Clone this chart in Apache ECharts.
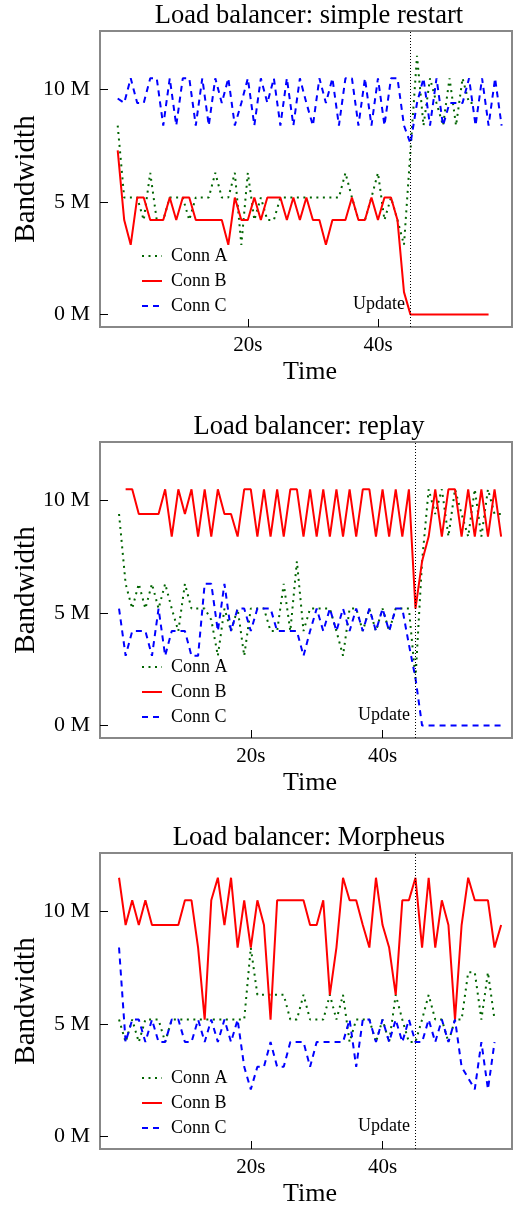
<!DOCTYPE html>
<html>
<head>
<meta charset="utf-8">
<script src="https://cdn.jsdelivr.net/npm/echarts@6/dist/echarts.min.js"></script>
<style>
  html, body { margin: 0; padding: 0; background: #fff; }
  #main { width: 513px; height: 1205px; }
</style>
</head>
<body>
<div id="main"></div>
<script>
// bandwidth samples, one per second, in M
const restartA = [8.4, 5.2, 5.2, 5.2, 4.2, 6.3, 4.2, 4.2, 5.2, 5.2,
  5.2, 4.2, 5.2, 5.2, 5.2, 6.3, 5.2, 5.2, 6.3, 3.1,
  6.3, 4.2, 5.2, 4.2, 4.2, 5.2, 5.2, 5.2, 5.2, 5.2,
  5.2, 5.2, 5.2, 5.2, 5.2, 6.3, 5.2, 4.2, 4.2, 5.2,
  6.3, 4.2, 5.2, 4.2, 3.1, 7.3, 11.5, 8.4, 10.5, 9.4,
  8.4, 10.5, 8.4, 10.5, 9.4, 9.4];
const restartB = [7.3, 4.2, 3.1, 5.2, 5.2, 4.2, 4.2, 4.2, 5.2, 4.2,
  5.2, 5.2, 4.2, 4.2, 4.2, 4.2, 4.2, 3.1, 5.2, 4.2,
  4.2, 5.2, 4.2, 5.2, 5.2, 5.2, 4.2, 5.2, 4.2, 5.2,
  4.2, 4.2, 3.1, 4.2, 4.2, 4.2, 5.2, 4.2, 4.2, 5.2,
  4.2, 5.2, 5.2, 4.2, 1.0, 0, 0, 0, 0, 0,
  0, 0, 0, 0, 0, 0, 0, 0];
const restartC = [9.6, 9.4, 10.5, 9.4, 9.4, 10.5, 10.5, 8.4, 10.5, 8.4,
  10.5, 10.5, 8.4, 10.5, 8.4, 10.5, 9.4, 10.5, 8.4, 9.4,
  10.5, 8.4, 10.5, 9.4, 10.5, 8.4, 10.5, 8.4, 10.5, 9.4,
  8.4, 10.5, 9.4, 10.5, 8.4, 10.5, 10.5, 8.4, 10.5, 8.4,
  10.5, 8.4, 10.5, 10.5, 8.4, 7.6, 9.4, 10.5, 8.4, 10.5,
  8.4, 9.4, 9.4, 9.4, 10.5, 8.4, 10.5, 8.4, 10.5, 8.4];

const replayA = [9.4, 6.3, 5.2, 6.3, 5.2, 6.3, 5.2, 6.3, 5.2, 4.2,
  6.3, 5.2, 5.2, 5.2, 4.7, 3.1, 5.2, 4.2, 5.2, 3.1,
  5.2, 5.2, 5.2, 4.2, 4.2, 6.3, 4.2, 7.3, 4.2, 5.2,
  5.2, 5.2, 5.2, 4.2, 3.1, 5.2, 5.2, 4.2, 5.2, 4.2,
  5.2, 4.2, 5.2, 5.2, 5.2, 2.1, 7.3, 10.5, 9.4, 10.5,
  8.4, 10.5, 9.4, 8.4, 10.5, 8.4, 10.5, 9.4, 9.4];
const replayB = [null, 10.5, 10.5, 9.4, 9.4, 9.4, 9.4, 10.5, 8.4, 10.5,
  9.4, 10.5, 8.4, 10.5, 8.4, 10.5, 9.4, 9.4, 8.4, 10.5,
  10.5, 8.4, 10.5, 8.4, 10.5, 8.4, 10.5, 10.5, 8.4, 10.5,
  8.4, 10.5, 8.4, 10.5, 8.4, 10.5, 8.4, 10.5, 10.5, 8.4,
  10.5, 8.4, 10.5, 8.4, 10.5, 5.2, 7.3, 8.4, 10.5, 8.4,
  10.5, 10.5, 8.4, 10.5, 8.4, 10.5, 8.4, 10.5, 8.4];
const replayC = [5.2, 3.1, 4.2, 4.2, 4.2, 3.1, 5.2, 3.1, 4.2, 4.2,
  4.2, 3.1, 3.1, 6.3, 6.3, 4.2, 6.3, 4.2, 5.2, 5.2,
  4.2, 5.2, 5.2, 5.2, 4.2, 4.2, 4.2, 4.2, 3.1, 4.2,
  5.2, 4.2, 5.2, 4.2, 5.2, 4.2, 5.2, 4.2, 5.2, 4.2,
  5.2, 4.2, 5.2, 5.2, 3.6, 2.1, 0, 0, 0, 0,
  0, 0, 0, 0, 0, 0, 0, 0, 0];

const morphA = [5.2, 4.2, 5.2, 4.2, 5.2, 5.2, 5.2, 4.2, 5.2, 5.2,
  5.2, 5.2, 5.2, 5.2, 5.2, 5.2, 5.2, 5.2, 5.2, 5.2,
  8.4, 6.3, 6.3, 6.3, 6.3, 6.3, 5.2, 5.2, 6.3, 5.2,
  5.2, 5.2, 6.3, 5.2, 6.3, 4.2, 5.2, 5.2, 5.2, 4.2,
  5.2, 4.2, 6.3, 5.2, 4.2, 4.2, 5.2, 6.3, 5.2, 5.2,
  4.2, 5.2, 5.2, 7.3, 7.3, 5.2, 7.3, 5.2];
const morphB = [11.5, 9.4, 10.5, 9.4, 10.5, 9.4, 9.4, 9.4, 9.4, 9.4,
  10.5, 10.5, 8.4, 5.2, 10.5, 11.5, 9.4, 11.5, 8.4, 10.5,
  8.4, 10.5, 9.4, 5.2, 10.5, 10.5, 10.5, 10.5, 10.5, 9.4,
  9.4, 10.5, 6.3, 8.4, 11.5, 10.5, 10.5, 9.4, 8.4, 11.5,
  9.4, 8.4, 6.3, 10.5, 10.5, 11.5, 8.4, 11.5, 8.4, 10.5,
  9.4, 5.2, 9.4, 11.5, 10.5, 10.5, 10.5, 8.4, 9.4];
const morphC = [8.4, 4.2, 5.2, 5.2, 4.2, 5.2, 4.2, 4.2, 5.2, 5.2,
  4.2, 4.2, 5.2, 4.2, 5.2, 4.2, 5.2, 4.2, 5.2, 3.1,
  2.1, 3.1, 3.1, 4.2, 3.1, 3.1, 4.2, 4.2, 4.2, 3.1,
  4.2, 4.2, 4.2, 4.2, 4.2, 5.2, 3.1, 5.2, 5.2, 4.2,
  5.2, 4.2, 5.2, 4.2, 5.2, 4.2, 4.2, 5.2, 4.2, 5.2,
  4.2, 5.2, 3.1, 2.6, 2.1, 4.2, 2.1, 4.2];

const connNames = ['Conn A', 'Conn B', 'Conn C'];
const xTicks = [20, 40];
const yTicks = [0, 5, 10];
const updateAt = 45;
const updateLabelY = 0.45;

const FONT = 'Liberation Serif';

const panels = [
  { title: 'Load balancer: simple restart', series: [restartA, restartB, restartC], top: 31, xMin: -2.72, xMax: 60.6 },
  { title: 'Load balancer: replay', series: [replayA, replayB, replayC], top: 442, xMin: -2.89, xMax: 59.65 },
  { title: 'Load balancer: Morpheus', series: [morphA, morphB, morphC], top: 853, xMin: -2.89, xMax: 59.65 }
];

const styles = [
  { color: '#006400', type: [2, 4.5] },
  { color: '#ff0000', type: 'solid' },
  { color: '#0000ff', type: [6, 5] }
];

let grids = [], xAxes = [], yAxes = [], legends = [], series = [], graphics = [];

panels.forEach((p, gi) => {
  grids.push({
    left: 100, width: 412, top: p.top, height: 296,
    outerBoundsMode: 'none', containLabel: false,
    show: true, borderColor: '#888', borderWidth: 2
  });
  xAxes.push({
    gridIndex: gi, type: 'value', min: p.xMin, max: p.xMax,
    axisLine: { show: false, onZero: false },
    axisTick: { show: true, inside: true, length: 8, customValues: xTicks, lineStyle: { color: '#000', width: 1 } },
    axisLabel: { customValues: xTicks, formatter: '{value}s', fontFamily: FONT, fontSize: 21, color: '#000', margin: 8 },
    splitLine: { show: false },
    name: 'Time', nameLocation: 'middle', nameGap: 32, nameMoveOverlap: false,
    nameTextStyle: { fontFamily: FONT, fontSize: 26, color: '#000', padding: [0, 0, 0, 8] }
  });
  yAxes.push({
    gridIndex: gi, type: 'value', min: -0.55, max: 12.6,
    axisLine: { show: false, onZero: false },
    axisTick: { show: true, inside: true, length: 8, customValues: yTicks, lineStyle: { color: '#000', width: 1 } },
    axisLabel: { customValues: yTicks, formatter: v => v + ' M', fontFamily: FONT, fontSize: 22, color: '#000', margin: 10 },
    splitLine: { show: false },
    name: 'Bandwidth', nameLocation: 'middle', nameGap: 59, nameRotate: 90, nameMoveOverlap: false,
    nameTextStyle: { fontFamily: FONT, fontSize: 29, color: '#000' }
  });
  legends.push({
    orient: 'vertical', left: 136, top: p.top + 211,
    itemWidth: 20, itemHeight: 10, itemGap: 7,
    data: connNames,
    itemStyle: { opacity: 0 },
    textStyle: { fontFamily: FONT, fontSize: 18, color: '#000', padding: [0, 0, 0, 4] }
  });
  graphics.push({
    type: 'text', x: 309, y: p.top - 28,
    style: { text: p.title, fontFamily: FONT, fontSize: 26.5, fill: '#000', textAlign: 'center', textVerticalAlign: 'top' }
  });

  p.series.forEach((vals, si) => {
    const s = {
      name: connNames[si], type: 'line', xAxisIndex: gi, yAxisIndex: gi,
      data: vals.map((v, i) => [i, v]),
      symbol: 'none', animation: false,
      lineStyle: { color: styles[si].color, width: 2, type: styles[si].type },
      itemStyle: { color: styles[si].color }
    };
    if (si === 2) {
      s.markLine = {
        silent: true, symbol: ['none', 'none'], animation: false,
        label: { show: false },
        lineStyle: { color: '#000', type: [1, 2], width: 1 },
        data: [{ xAxis: updateAt }]
      };
      s.markPoint = {
        silent: true, animation: false, symbol: 'circle', symbolSize: 1,
        itemStyle: { color: 'rgba(0,0,0,0)' },
        label: { show: true, position: 'left', distance: 5, formatter: 'Update', fontFamily: FONT, fontSize: 18, color: '#000' },
        data: [{ coord: [updateAt, updateLabelY] }]
      };
    }
    series.push(s);
  });
});

let chart = echarts.init(document.getElementById('main'));
chart.setOption({
  backgroundColor: '#fff',
  animation: false,
  grid: grids,
  xAxis: xAxes,
  yAxis: yAxes,
  legend: legends,
  graphic: graphics,
  series: series
});
</script>
</body>
</html>
